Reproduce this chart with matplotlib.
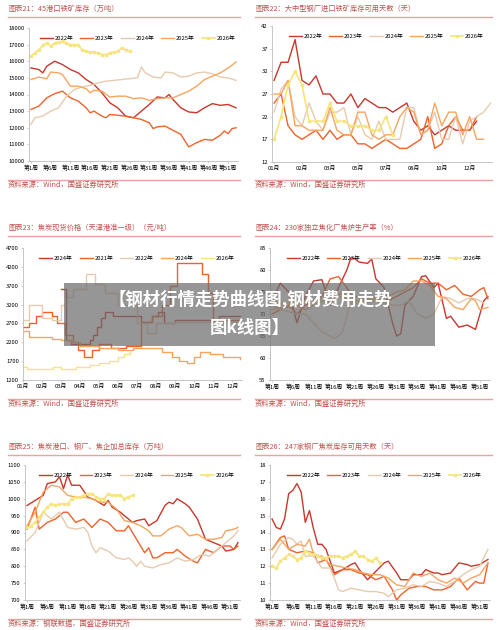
import matplotlib
matplotlib.use('Agg')
import matplotlib.pyplot as plt
import matplotlib.lines as mlines

plt.rcParams['font.family'] = ['Noto Sans CJK SC', 'DejaVu Sans']

C22, C23, C24, C25, C26 = '#C8372D', '#F0622A', '#E6CBAE', '#F6A560', '#F6E47C'
TITLE_C = '#C0504D'
RULE_C = '#E9A3A3'
YEARS = ['2022年', '2023年', '2024年', '2025年', '2026年']
WEEK_TICKS = [1, 6, 11, 16, 21, 26, 31, 36, 41, 46, 51]
WEEK_LABELS = ['第%d周' % w for w in WEEK_TICKS]

# ---- 图表21: 45港口铁矿库存 (week, value)
p21_2022 = [(1,15600),(3,15500),(4,15300),(5,15700),(7,16000),(9,15800),(11,15500),(13,15300),(15,14900),(17,14600),(19,14100),(21,13500),(23,13200),(25,12700),(27,12600),(29,13000),(31,13400),(33,13850),(35,13800),(36,14000),(37,13700),(39,13200),(41,12950),(43,12900),(45,13200),(47,13450),(49,13350),(51,13400),(53,13200)]
p21_2023 = [(1,13100),(3,13300),(5,13800),(7,14050),(9,14200),(11,13800),(13,13600),(15,13200),(16,12900),(17,13000),(19,12700),(20,12600),(21,12800),(23,12750),(25,12700),(27,12600),(29,12500),(31,12300),(32,11950),(33,12050),(35,12100),(37,11850),(39,11600),(41,10850),(43,11100),(45,11300),(47,11250),(49,11550),(50,11800),(51,11650),(52,11950),(53,12000)]
p21_2024 = [(1,12200),(2,12600),(4,12700),(6,13000),(8,13200),(10,13900),(12,14300),(14,14450),(16,14550),(18,14700),(20,14800),(22,14850),(24,14900),(26,14950),(28,15000),(29,15650),(30,15300),(32,15050),(34,15000),(35,15350),(37,15300),(39,15050),(41,15100),(43,15300),(45,15350),(47,15250),(49,15050),(51,15000),(53,14850)]
p21_2025 = [(1,14900),(3,15050),(5,14950),(6,15350),(8,15300),(9,15200),(11,14500),(13,14500),(15,14350),(16,14100),(17,14250),(19,14200),(21,13850),(23,13900),(25,13900),(27,13750),(29,13800),(31,13650),(33,13750),(35,13800),(37,13800),(39,14000),(41,14200),(43,14500),(45,14900),(47,15100),(49,15300),(51,15600),(53,15950)]
p21_2026 = [(1,16300),(2,16500),(3,16700),(4,16950),(5,17100),(6,16900),(7,17100),(8,17150),(9,17200),(10,17100),(11,17000),(12,17000),(13,16950),(14,16700),(15,16600),(16,16550),(17,16550),(18,16500),(19,16400),(20,16400),(21,16500),(22,16550),(23,16600),(24,16800),(25,16700),(26,16600)]

# ---- 图表22: 可用天数 (sample index values)
p22_2022 = [30,34,34,39,30,29,31,27,27,25,25,27,24,26,25,24,24,23,24,25,21,19,20,18,19,20,19,19,19,21]
p22_2023 = [25,27,20,18,17,18,19,17,19,17,18,18,16,16,15,16,17,16,15,15,16,17,22,15,16,20,22,19,19,22]
p22_2024 = [23,28,30,22,20,25,21,19,23,23,24,18,22,18,17,21,17,17,17,24,24,18,19,23,17,17,22,16,21,22,23,25]
p22_2025 = [27,27,30,20,20,19,19,19,24,19,18,18,23,23,18,17,18,18,22,24,23,18,19,25,20,23,23,18,22,17,17]
p22_2026 = [17,22,29,32,29,21,21,21,25,21,21,20,20,20,19,19,22,18]
p22_ticks = ['01月', '02月', '03月', '05月', '07月', '08月', '10月', '12月']

# ---- 图表23: 焦炭现货价格 (month, price) step series
p23_a = [(3.0,3600),(3.25,2250),(3.5,2150),(4.5,2250),(4.7,2400),(4.9,2600),(5.1,2850),(5.3,3000),(5.7,2900),(7.2,2750),(7.8,2900),(8.1,3000),(8.4,2700),(9.0,2800),(11.0,2800),(11.3,2900),(12.4,2900)]
p23_b = [(1,2600),(1.3,2700),(1.7,2900),(2.0,3000),(2.5,2900),(2.8,2700),(3.2,2400),(3.6,2200),(3.9,2000),(4.2,1800),(4.6,2000),(5.0,2150),(5.6,2050),(6.4,2100),(7.2,2750),(7.8,2900),(8.3,3200),(8.7,3700),(9.1,4300),(10.4,4000),(10.7,3500),(11.0,2800),(12.4,2800)]
p23_c = [(1,2800),(1.3,3200),(2.0,2850),(2.5,2800),(3.0,3200),(3.3,3400),(3.6,3600),(4.3,4000),(4.8,3750),(5.3,3500),(6.0,3200),(7.0,2700),(7.5,2450),(8.0,2700),(9.0,2750),(12.4,2750)]
p23_d = [(1,2500),(1.3,2350),(2.5,2300),(3.0,2250),(3.5,2200),(4.0,2100),(5.0,2050),(6.0,2000),(6.8,2050),(7.8,2050),(8.3,1950),(8.8,1800),(9.2,1700),(9.6,1650),(10.0,1800),(10.3,1950),(10.8,1900),(11.5,1800),(12.4,1750)]
p23_e = [(1,1550),(1.2,1500),(2.0,1500),(2.6,1550),(3.0,1500),(3.8,1550),(4.5,1600),(5.0,1650),(5.5,1700),(6.0,1800),(6.3,1900),(6.6,1950)]
p23_labels = ['2024年', '2021年', '2022年', '2024年', '2026年']
p23_ticks = ['%02d月' % m for m in range(1, 13)]

# ---- 图表24: 焦炉生产率 (week, %)
p24_2022 = [(1,73),(3,77),(5,75),(7,68),(9,74),(11,77.5),(13,77.8),(15,72),(17,76),(19,80),(20,82.8),(21,82.5),(22,81.8),(24,81.5),(25,82.5),(26,78),(28,76),(29,72),(30,68),(31,65),(32,65.5),(33,72),(35,74),(37,78.5),(38,78.7),(40,76),(41,77),(43,69),(44,69.5),(46,67),(48,67.5),(50,66.5),(52,73),(53,74)]
p24_2023 = [(1,70),(3,71),(5,72),(7,70),(9,72),(11,73),(13,74),(15,78),(17,78.5),(19,76),(21,73),(23,73),(25,74),(27,73),(29,73),(31,74),(33,75),(35,76),(37,78),(39,77),(41,77),(43,75.5),(45,76.5),(47,74.5),(49,74),(51,75.5),(52,76),(53,73.5)]
p24_2024 = [(1,72),(3,71),(5,70.5),(7,70),(9,70),(11,68),(13,66),(15,65),(16,64.5),(17,65),(18,66),(20,73),(22,72),(24,72.5),(26,73),(28,72.5),(30,72),(32,72),(34,73),(36,70),(38,69),(40,70),(42,74),(44,73.5),(46,72.5),(48,73.5),(50,73.5),(52,72.5)]
p24_2025 = [(1,71),(3,71.5),(5,71.5),(7,72),(9,71),(11,72),(13,74),(15,75),(17,74.5),(19,75),(21,74),(23,73.5),(25,73),(27,74),(29,74),(31,75),(33,75.5),(35,77.5),(37,77.5),(39,76.5),(41,74),(43,73.5),(45,71.5),(47,71),(49,73.5),(50,73),(51,71),(53,71.5)]
p24_2026 = [(1,73),(3,72.5),(5,72.5),(7,73),(9,73),(11,72.5),(13,73),(15,73),(17,74),(19,73.5),(21,73),(23,73),(25,73.5),(27,73),(29,72.5)]

# ---- 图表25: 焦炭加总库存 (week, 万吨)
p25_2022 = [(1,980),(3,995),(5,1010),(6,1045),(8,1050),(9,1065),(10,1030),(11,1070),(12,1040),(14,1040),(16,1005),(18,995),(20,980),(21,995),(22,975),(24,960),(25,950),(27,930),(28,935),(30,940),(31,920),(33,935),(35,980),(36,990),(37,985),(38,1000),(40,985),(41,975),(43,940),(45,880),(47,870),(49,860),(50,845),(52,850),(53,870)]
p25_2023 = [(1,910),(3,975),(4,910),(6,930),(8,940),(10,960),(11,960),(13,930),(15,940),(17,915),(19,940),(21,930),(23,905),(25,905),(26,920),(28,880),(30,840),(31,855),(32,825),(33,825),(35,840),(37,840),(38,850),(40,830),(42,815),(43,810),(45,850),(47,840),(49,860),(51,860),(52,850),(53,860)]
p25_2024 = [(1,875),(3,900),(5,960),(7,940),(9,960),(11,915),(13,910),(15,915),(16,900),(17,860),(18,840),(19,855),(21,845),(23,825),(25,820),(26,825),(27,815),(28,800),(29,815),(30,800),(32,795),(34,805),(36,810),(38,825),(40,815),(42,820),(44,835),(46,830),(48,850),(50,870),(52,890),(53,905)]
p25_2025 = [(1,920),(3,960),(5,1020),(7,1040),(9,1035),(11,1010),(13,1005),(15,1005),(17,1000),(19,990),(21,990),(23,970),(25,935),(27,930),(29,920),(31,905),(32,890),(34,890),(36,910),(38,920),(39,915),(41,890),(43,895),(45,880),(47,880),(49,885),(50,905),(52,910),(53,915)]
p25_2026 = [(1,915),(2,920),(3,930),(4,945),(5,960),(6,975),(7,985),(8,980),(9,985),(10,985),(11,985),(12,1000),(13,1005),(14,1005),(15,1010),(16,1015),(17,1015),(18,1005),(19,1000),(20,1000),(21,1015),(22,1010),(23,1010),(24,1010),(25,1000),(26,1005),(27,1010)]

# ---- 图表26: 钢厂焦炭可用天数 (week, 天)
p26_2022 = [(1,14.8),(2,14.3),(3,14.2),(4,14.8),(5,16.3),(6,16.5),(7,16.9),(8,16.4),(9,14.6),(10,15.3),(11,14.2),(12,13.3),(13,13.3),(14,13.0),(15,12.3),(16,11.6),(18,11.8),(20,12.1),(21,12.2),(22,11.8),(24,11.2),(26,11.7),(28,12.2),(29,12.3),(31,11.6),(32,11.2),(34,11.2),(35,11.5),(37,11.5),(38,11.8),(40,11.6),(41,11.6),(42,11.5),(44,11.6),(46,12.2),(48,12.1),(49,12.0),(51,12.1),(53,12.4)]
p26_2023 = [(1,13.0),(3,13.7),(4,13.8),(5,13.0),(7,12.8),(9,12.9),(11,12.8),(12,12.2),(14,12.4),(16,11.5),(18,11.8),(20,11.8),(22,11.6),(24,11.5),(26,11.2),(28,11.4),(30,10.6),(31,10.0),(32,10.3),(34,10.7),(36,10.8),(38,10.8),(40,10.6),(42,10.6),(44,10.8),(46,11.3),(48,10.6),(50,11.1),(51,11.0),(52,11.0),(53,12.2)]
p26_2024 = [(1,12.5),(3,13.3),(5,13.7),(6,13.6),(7,13.3),(8,13.5),(9,12.6),(11,12.6),(13,11.9),(15,11.9),(16,11.3),(17,10.6),(18,10.5),(20,10.7),(22,10.6),(24,10.5),(26,10.5),(28,10.4),(29,10.2),(31,10.6),(33,10.7),(35,10.9),(37,10.8),(39,11.1),(41,11.0),(43,10.8),(45,11.1),(47,11.5),(49,11.8),(51,12.0),(53,13.0)]
p26_2025 = [(1,13.0),(3,13.6),(5,13.0),(7,13.3),(9,13.2),(10,13.6),(11,12.7),(13,12.6),(15,12.1),(17,12.0),(19,11.9),(21,11.8),(23,11.6),(25,11.5),(27,11.5),(29,11.3),(31,10.9),(33,10.8),(35,11.6),(37,11.4),(39,11.6),(41,11.2),(43,11.0),(45,11.3),(47,11.0),(49,11.3),(51,11.5),(53,12.2)]
p26_2026 = [(1,12.0),(2,11.9),(3,12.3),(4,12.5),(5,12.7),(6,12.6),(7,12.4),(8,12.5),(9,12.9),(10,12.8),(11,12.7),(12,12.6),(13,12.5),(14,12.5),(15,12.6),(16,12.6),(17,12.6),(18,12.5),(19,12.6),(20,12.7),(21,12.9),(22,12.6),(23,12.6),(24,12.4),(25,12.3),(26,12.5),(27,12.2)]

W, H = 500, 630
fig = plt.figure(figsize=(5, 6.3), dpi=100)
fig.patch.set_facecolor('white')


def fy(py):
    return 1 - py / H


def frame(x0, x1, title, ty, source, sy):
    fig.text(x0 / W, fy(ty), title, fontsize=5.2, color=TITLE_C, style='italic', va='center')
    fig.add_artist(mlines.Line2D([x0 / W, x1 / W], [fy(ty + 8)] * 2, color=RULE_C, lw=1.0))
    fig.add_artist(mlines.Line2D([x0 / W, x1 / W], [fy(sy - 4)] * 2, color=RULE_C, lw=1.0))
    fig.text(x0 / W, fy(sy + 1), source, fontsize=5.2, color=TITLE_C, style='italic', va='center')


def make_ax(x0, x1, top, bottom):
    ax = fig.add_axes([x0 / W, fy(bottom), (x1 - x0) / W, (bottom - top) / H])
    for s in ['top', 'right']:
        ax.spines[s].set_visible(False)
    for s in ['left', 'bottom']:
        ax.spines[s].set_color('#BBBBBB')
        ax.spines[s].set_linewidth(0.6)
    ax.tick_params(labelsize=4.2, length=1.5, width=0.5, color='#BBBBBB', pad=1.5)
    return ax


def draw(ax, series, labels=YEARS, step=False):
    colors = [C22, C23, C24, C25, C26]
    for i, (pts, lab) in enumerate(zip(series, labels)):
        x = [p[0] for p in pts]
        y = [p[1] for p in pts]
        kw = dict(color=colors[i], lw=1.0, label=lab)
        if i == 4 and not step:
            kw.update(marker='s', ms=1.8, lw=1.2)
        if step:
            kw['drawstyle'] = 'steps-post'
        ax.plot(x, y, **kw)
    ax.legend(loc='upper center', bbox_to_anchor=(0.52, 0.98), ncol=5, frameon=False,
              fontsize=4.2, handlelength=2.2, columnspacing=1.2, handletextpad=0.3)


def week_axis(ax):
    ax.set_xlim(0.5, 53.5)
    ax.set_xticks(WEEK_TICKS)
    ax.set_xticklabels(WEEK_LABELS)


LX0, LX1, RX0, RX1 = 8, 240, 255, 492

# Row 1
frame(LX0, LX1, '图表21：45港口铁矿库存（万吨）', 9, '资料来源：Wind，国盛证券研究所', 184)
ax = make_ax(29, 238, 28, 161)
draw(ax, [p21_2022, p21_2023, p21_2024, p21_2025, p21_2026])
ax.set_ylim(10000, 18000)
ax.set_yticks(range(10000, 18001, 1000))
week_axis(ax)

frame(RX0, RX1, '图表22：大中型钢厂进口铁矿库存可用天数（天）', 9, '资料来源：Wind，国盛证券研究所', 184)
ax = make_ax(272, 492, 26, 162)
series = [list(enumerate(s)) for s in [p22_2022, p22_2023, p22_2024, p22_2025, p22_2026]]
draw(ax, series)
ax.set_ylim(12, 42)
ax.set_yticks(range(12, 43, 5))
ax.set_xlim(-0.3, 31.2)
ax.set_xticks(range(0, 29, 4))
ax.set_xticklabels(p22_ticks)

# Row 2
frame(LX0, LX1, '图表23：焦炭现货价格（天津港准一级）（元/吨）', 228, '资料来源：Wind，国盛证券研究所', 403)
ax = make_ax(23, 242, 248, 380)
draw(ax, [p23_a, p23_b, p23_c, p23_d, p23_e], labels=p23_labels, step=True)
ax.set_ylim(1200, 4700)
ax.set_yticks(range(1200, 4701, 500))
ax.set_xlim(1, 12.5)
ax.set_xticks(range(1, 13))
ax.set_xticklabels(p23_ticks)

frame(RX0, RX1, '图表24：230家独立焦化厂焦炉生产率（%）', 228, '资料来源：Wind，国盛证券研究所', 403)
ax = make_ax(270, 490, 248, 380)
draw(ax, [p24_2022, p24_2023, p24_2024, p24_2025, p24_2026])
ax.set_ylim(55, 85)
ax.set_yticks(range(55, 86, 5))
week_axis(ax)

# Row 3
frame(LX0, LX1, '图表25：焦炭港口、钢厂、焦企加总库存（万吨）', 447, '资料来源：钢联数据，国盛证券研究所', 623)
ax = make_ax(25, 240, 465, 600)
draw(ax, [p25_2022, p25_2023, p25_2024, p25_2025, p25_2026])
ax.set_ylim(700, 1100)
ax.set_yticks(range(700, 1101, 50))
week_axis(ax)

frame(RX0, RX1, '图表26：247家钢厂焦炭库存可用天数（天）', 447, '资料来源：Wind，国盛证券研究所', 623)
ax = make_ax(270, 490, 465, 600)
draw(ax, [p26_2022, p26_2023, p26_2024, p26_2025, p26_2026])
ax.set_ylim(10, 18)
ax.set_yticks(range(10, 19, 1))
week_axis(ax)

# Banner overlay
fig.patches.append(plt.Rectangle((64 / W, fy(346)), (435 - 64) / W, 63 / H,
                                 transform=fig.transFigure, facecolor='#6E6E6E',
                                 alpha=0.72, edgecolor='none', zorder=10))
fig.text(250 / W, fy(299), '【钢材行情走势曲线图,钢材费用走势', fontsize=12.5, color='white',
         weight='bold', ha='center', va='center', zorder=11)
fig.text(250 / W, fy(328), '图k线图】', fontsize=12.5, color='white',
         weight='bold', ha='center', va='center', zorder=11)

fig.savefig('out.png', dpi=100)
